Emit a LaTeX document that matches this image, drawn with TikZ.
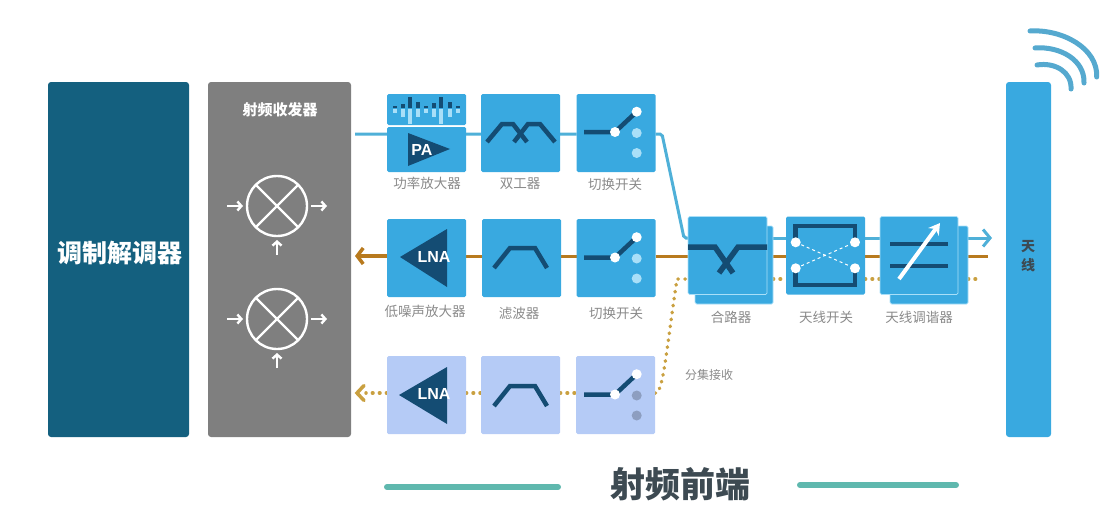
\documentclass[tikz,border=0pt]{standalone}
\usepackage{fontspec}
\setmainfont{Noto Sans CJK SC}
\newfontfamily\latinfont{Liberation Sans}
\usetikzlibrary{arrows.meta,backgrounds}
\definecolor{modemc}{HTML}{14607F}
\definecolor{grayc}{HTML}{7F7F7F}
\definecolor{boxc}{HTML}{39A9E0}
\definecolor{palec}{HTML}{B5CBF6}
\definecolor{darkc}{HTML}{144C73}
\definecolor{lightc}{HTML}{A9DFF8}
\definecolor{txc}{HTML}{4FB0D8}
\definecolor{rxc}{HTML}{B87A1E}
\definecolor{dotc}{HTML}{C9A040}
\definecolor{labelc}{HTML}{8A8A8A}
\definecolor{tealc}{HTML}{5FB8AE}
\definecolor{titlec}{HTML}{3D4A52}
\definecolor{wavec}{HTML}{55A9CF}
\tikzset{
  x=1pt,y=-1pt,
  block/.style={inner sep=0,outer sep=0,rounded corners=1.5pt,minimum width=79pt,minimum height=78pt},
  bluebox/.style={block,fill=boxc},
  palebox/.style={block,fill=palec},
  frontbox/.style={bluebox,draw=lightc,line width=.7pt},
  tall/.style={inner sep=0,outer sep=0,rounded corners=3pt,minimum width=#1,minimum height=355pt},
  lab/.style={text=labelc,font=\fontsize{13.5}{15}\selectfont,inner sep=0},
  smalllab/.style={text=labelc,font=\fontsize{12}{14}\selectfont,inner sep=0},
  amp/.style={inner sep=0,text=white,font=\latinfont\fontsize{16}{18}\selectfont\bfseries},
  icon/.style={draw=darkc,line width=4.5pt,line join=miter},
  txline/.style={draw=txc,line width=3pt},
  rxline/.style={draw=rxc,line width=3pt},
  dotline/.style={draw=dotc,line width=3.5pt,line cap=round,dash pattern=on .6pt off 6.4pt},
  wht/.style={draw=white,line width=2.4pt},
  whtarrow/.style={wht,-{Straight Barb[length=4pt,width=9pt]}},
  wave/.style={draw=wavec,line width=5pt,line cap=round},
  rule/.style={draw=tealc,line width=6pt,line cap=round},
}
\newcommand{\swicon}[3]{%
  \begin{scope}[shift={(#1,#2)}]
    \draw[icon] (584,132) -- (615,132) -- (636.7,111.7);
    \fill[white] (615,132) circle[radius=5pt] (636.7,111.7) circle[radius=5pt];
    \fill[#3] (636.7,133) circle[radius=5pt] (636.7,153) circle[radius=5pt];
  \end{scope}}
\newcommand{\mixicon}[1]{%
  \begin{scope}[shift={(277,#1)}]
    \draw[wht] (0,0) circle[radius=30pt];
    \draw[wht] (-21.2,-21.2) -- (21.2,21.2) (-21.2,21.2) -- (21.2,-21.2);
    \draw[whtarrow] (-50,0) -- (-34,0);
    \draw[whtarrow] (34,0) -- (50,0);
    \draw[whtarrow] (0,49) -- (0,34);
  \end{scope}}
\begin{document}
\begin{tikzpicture}
\useasboundingbox (0,0) rectangle (1110,506);
% main columns
\node[tall=141pt,fill=modemc] (modem) at (118.5,259.5) {};
\node[inner sep=0,text=white,font=\fontsize{25}{28}\selectfont\bfseries] (modemlab) at (120,253) {调制解调器};
\node[tall=143pt,fill=grayc] (trx) at (279.5,259.5) {};
\node[inner sep=0,text=white,font=\fontsize{15}{18}\selectfont\bfseries] (trxlab) at (280,110) {射频收发器};
\node[tall=45pt,fill=boxc] (ant) at (1028.5,259.5) {};
\node[inner sep=0,text=titlec,font=\fontsize{14}{19}\selectfont\bfseries,align=center] (antlab) at (1028,256) {天\\[0pt]线};
% blocks
\node[block,fill=boxc,minimum height=31pt] (pat) at (426.5,109.5) {};
\node[block,fill=boxc,minimum height=45pt] (pab) at (426.5,149.5) {};
\node[bluebox] (dup) at (520.5,133) {};
\node[bluebox] (swa) at (616,133) {};
\node[bluebox] (lna) at (426.5,258) {};
\node[bluebox] (fil) at (521.5,258) {};
\node[bluebox] (swb) at (616,258) {};
\node[palebox] (lnc) at (426.5,395) {};
\node[palebox] (flc) at (520.5,395) {};
\node[palebox] (swc) at (615.5,395) {};
\node[frontbox,minimum width=78pt] (cbk) at (734,265) {};
\node[frontbox] (cmb) at (727.5,255.5) {};
\node[bluebox] (asw) at (825.5,255.5) {};
\node[frontbox,minimum width=78pt] (tbk) at (929,265) {};
\node[frontbox,minimum width=78pt] (tun) at (919,255.5) {};
% bus reference points
\coordinate (bt) at (0,134);
\coordinate (btb) at (0,238);
\coordinate (br) at (0,256);
\coordinate (bd) at (0,279);
\coordinate (bc) at (0,393);
\coordinate (txend) at (992,238);
\coordinate (rxend) at (988,256);
\coordinate (dotend) at (980,279);
\coordinate (txa) at (355,134);
\coordinate (rxa) at (355,256);
\coordinate (dca) at (366,393);
\coordinate (bend) at (662,134);
\coordinate (benb) at (684,238);
\coordinate (dtop) at (677,279);
\coordinate (dlow) at (657,393);
% connectors behind the blocks
\begin{scope}[on background layer]
  \draw[txline,rounded corners=2pt] (txa) -- (bt -| pab.west) (bt -| pab.east) -- (bt -| dup.west) (bt -| dup.east) -- (bt -| swa.west)
     (bt -| swa.east) -- (bend) -- (benb) -- (btb -| cmb.west);
  \draw[txline] (btb -| cmb.east) -- (btb -| asw.west) (btb -| asw.east) -- (btb -| tun.east);
  \draw[txline,-{Straight Barb[length=7pt,width=17pt]}] (btb -| tbk.east) -- (txend);
  \draw[rxline,line width=3.5pt,-{Straight Barb[length=6pt,width=16pt]}] (br -| lna.west) -- (rxa);
  \draw[rxline] (br -| lna.east) -- (br -| fil.west) (br -| fil.east) -- (br -| swb.west) (br -| swb.east) -- (br -| cmb.west)
     (br -| cbk.east) -- (br -| asw.west) (br -| asw.east) -- (br -| tbk.west) (br -| tbk.east) -- (rxend);
  \draw[dotline] (bc -| lnc.west) -- (dca);
  \draw[dotline] (bc -| lnc.east) -- (bc -| flc.west);
  \draw[dotline] (bc -| flc.east) -- (bc -| swc.west);
  \draw[dotline] (bc -| swc.east) -- (dlow) .. controls (664,385) and (667,345) .. (dtop) -- (bd -| cmb.west);
  \draw[dotline] (bd -| cbk.east) -- (bd -| asw.west);
  \draw[dotline] (bd -| asw.east) -- (bd -| tun.west);
  \draw[dotline] (bd -| tbk.east) -- (dotend);
\end{scope}
\draw[draw=dotc,line width=3.5pt,line cap=round] (364,385.5) -- (357,393) -- (364,400.5);
% mixers
\mixicon{206}
\mixicon{319}
% PA waveform
\foreach \bx/\up/\dn in {395/2/4,402.5/4/8,410/11/15,418/6/8,426/2/4,433.5/5/8,441/11/15,449.5/6/8,457.5/2/4}{
  \fill[darkc] (\bx-2,108) rectangle (\bx+2,108-\up);
  \fill[lightc] (\bx-2,109) rectangle (\bx+2,109+\dn);
}
% PA
\fill[darkc] (408,133) -- (450,149) -- (408,166) -- cycle;
\node[amp] (palab) at (422,150) {PA};
% duplexer
\draw[icon] (487,142) -- (502,124) -- (513,124) -- (527,142);
\draw[icon] (514,142) -- (528,124) -- (540,124) -- (555,142);
% switches
\swicon{0}{0}{lightc}
\swicon{0}{125.5}{lightc}
\swicon{0}{262.5}{black!22!palec}
% LNA top
\fill[darkc] (400,257) -- (447,229) -- (447,287) -- cycle;
\node[amp] (lnalab) at (434,257) {LNA};
\draw[icon] (494,268) -- (510,248) -- (535,248) -- (547,268);
% LNA diversity
\fill[darkc] (399,395) -- (447,367) -- (447,424) -- cycle;
\node[amp] (lnblab) at (434,394) {LNA};
\draw[icon] (494,406) -- (510,386) -- (535,386) -- (547,406);
% combiner
\draw[icon,line width=5.5pt] (688,247) -- (715,247) -- (733,273);
\draw[icon,line width=5.5pt] (767,247) -- (738,247) -- (719,273);
% antenna switch
\draw[icon] (795.7,242) -- (795.7,226) -- (855,226) -- (855,242);
\draw[icon] (795.7,268) -- (795.7,285) -- (855,285) -- (855,268);
\draw[white,line width=1pt,dashed] (795.7,242.3) -- (855,268.3) (795.7,268.3) -- (855,242.3);
\fill[white] (795.7,242.3) circle[radius=5pt] (795.7,268.3) circle[radius=5pt] (855,242.3) circle[radius=5pt] (855,268.3) circle[radius=5pt];
% tuner
\draw[icon,line width=4pt] (890,244) -- (948,244);
\draw[icon,line width=4pt] (890,265.7) -- (948,265.7);
\draw[draw=white,line width=4pt,-{Stealth[length=11pt,width=13pt]}] (899,279) -- (940,223);
% antenna waves
\draw[wave] (1030,31) .. controls (1062,29) and (1098,48) .. (1096.7,77);
\draw[wave] (1035,48) .. controls (1060,46) and (1085,60) .. (1084,83);
\draw[wave] (1037,65) .. controls (1055,62) and (1072,72) .. (1071,89);
% labels
\node[lab] (l1) at (427,183) {功率放大器};
\node[lab] (l2) at (520,184) {双工器};
\node[lab] (l3) at (615,184) {切换开关};
\node[lab] (l4) at (425,311) {低噪声放大器};
\node[lab] (l5) at (519,313) {滤波器};
\node[lab] (l6) at (616,313) {切换开关};
\node[lab] (l7) at (731,317) {合路器};
\node[lab] (l8) at (826,317) {天线开关};
\node[lab] (l9) at (919,317) {天线调谐器};
\node[smalllab] (l10) at (709,375) {分集接收};
% title
\node[inner sep=0,text=titlec,font=\fontsize{35}{38}\selectfont\bfseries] (title) at (680,484) {射频前端};
\coordinate (ra) at (387,487);
\coordinate (rb) at (558,487);
\coordinate (rc) at (800,485);
\coordinate (rd) at (956,485);
\draw[rule] (ra) -- (rb);
\draw[rule] (rc) -- (rd);
\end{tikzpicture}
\end{document}
